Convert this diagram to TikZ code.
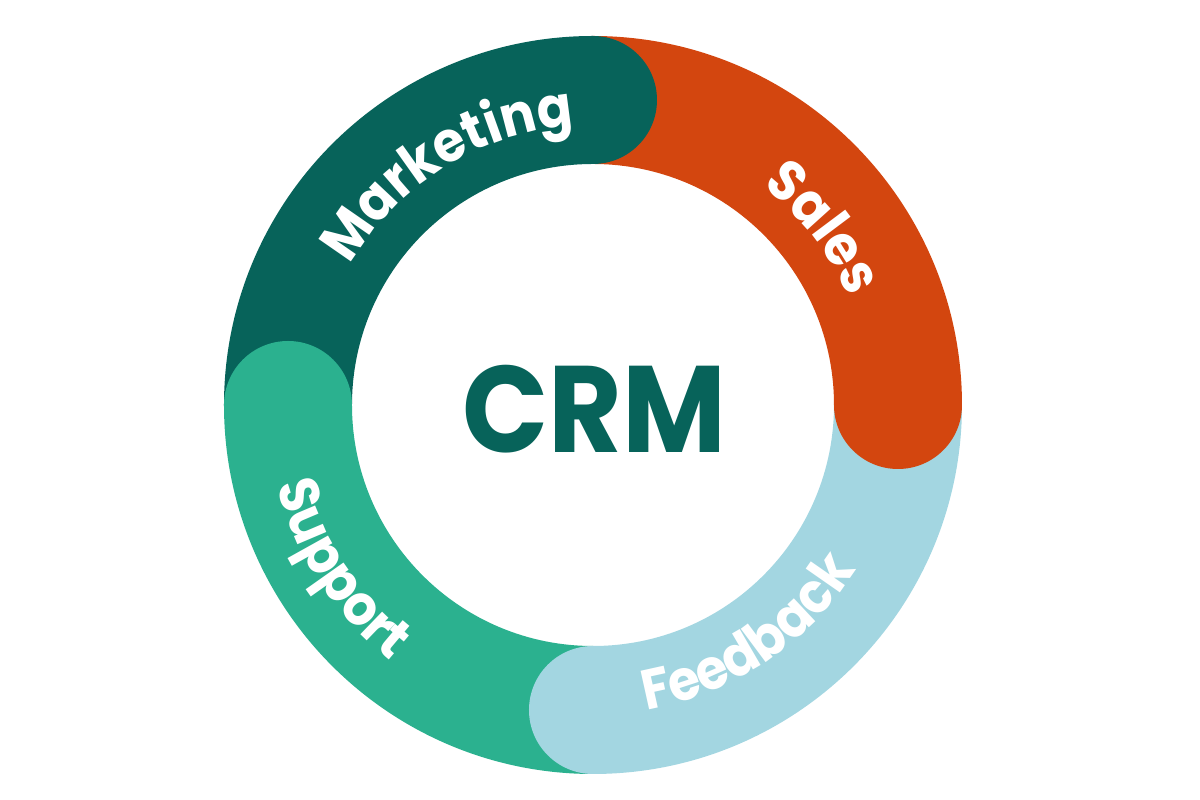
\documentclass[tikz,border=0pt]{standalone}
\usepackage{fontspec}
\setmainfont{Poppins}
\newfontfamily\ringfont{Poppins}[FakeStretch=0.92]
\usetikzlibrary{decorations.text}
\definecolor{marketing}{HTML}{07635A}
\definecolor{sales}{HTML}{D3460F}
\definecolor{feedback}{HTML}{A3D6E1}
\definecolor{support}{HTML}{2BB18F}
\newcommand\ringlabel{\ringfont\fontsize{16pt}{16pt}\selectfont\bfseries\color{white}}

\begin{document}
\begin{tikzpicture}[
    font=\bfseries,
    crm/.style={font=\ringfont\fontsize{35pt}{35pt}\selectfont\bfseries,
                text=marketing, inner sep=0pt},
    lab/.style={decorate, decoration={text along path, text align=center,
                text={|\ringlabel|#1}}},
]
\useasboundingbox (-5.93,-3.95) rectangle (6.07,4.05);
% ring radii: inner, outer, middle, and half the width for the round ends
\def\rin{2.41}
\def\rout{3.69}
\def\rmid{3.05}
\def\rcap{0.64}

% ---- ring segments, clockwise from the left ----
\foreach \col/\sa in {marketing/180, sales/90, feedback/0, support/-90} {
    \pgfmathsetmacro\ea{\sa-90}
    \fill[\col] (\sa:\rin) arc[start angle=\sa, end angle=\ea, radius=\rin]
        -- (\ea:\rout) arc[start angle=\ea, end angle=\sa, radius=\rout] -- cycle;
}
% round ends last, so each one laps over the next segment
\foreach \col/\ang in {marketing/90, sales/0, feedback/-90, support/180} {
    \fill[\col] (\ang:\rmid) circle[radius=\rcap];
}

% ---- labels along the ring ----
\path[lab=Marketing] (162:2.80) arc[start angle=162, end angle=82, radius=2.80];
\path[lab=Sales] (72:2.77) arc[start angle=72, end angle=3, radius=2.77];
\path[lab=Feedback] (-96:3.10) arc[start angle=-96, end angle=-16, radius=3.10];
\path[lab=Support] (173:3.26) arc[start angle=173, end angle=253, radius=3.26];

\node[crm, anchor=base] (crm) at (0.01,-0.48) {CRM};
\end{tikzpicture}
\end{document}
